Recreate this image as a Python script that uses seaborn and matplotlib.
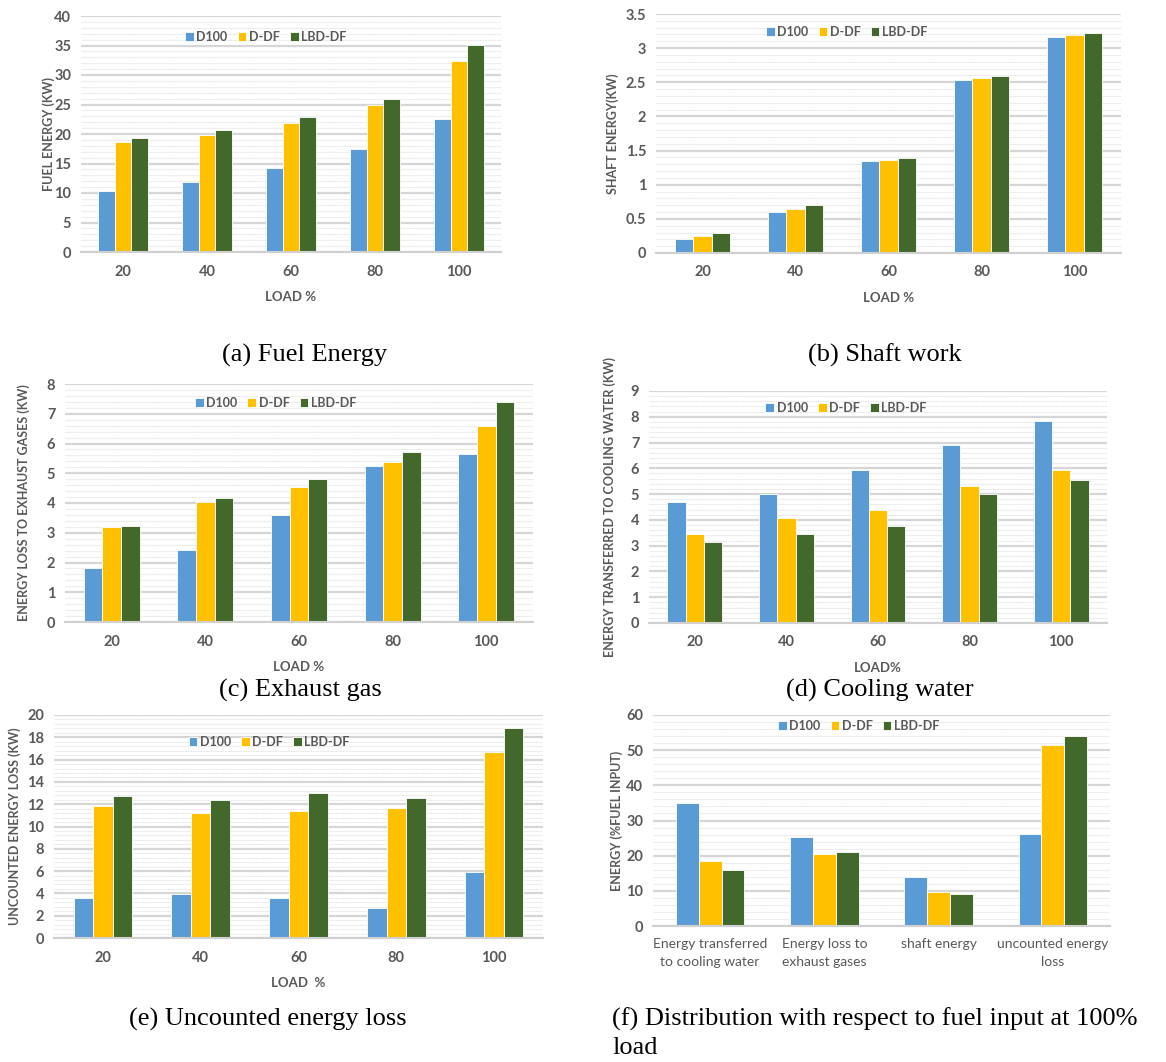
import numpy as np
import pandas as pd
import matplotlib
matplotlib.use("Agg")
import matplotlib.pyplot as plt
import seaborn as sns
from matplotlib.ticker import MultipleLocator

# series names and colours
series = ["D100", "D-DF", "LBD-DF"]
colors = ["#5B9BD5", "#FFC000", "#43682B"]
loads = ["20", "40", "60", "80", "100"]

# (a) fuel energy (kW)
fuel_d100 = [10.3, 11.9, 14.3, 17.4, 22.5]
fuel_ddf = [18.7, 19.9, 21.8, 24.9, 32.3]
fuel_lbd = [19.3, 20.6, 22.9, 26.0, 35.1]

# (b) shaft energy (kW)
shaft_d100 = [0.21, 0.60, 1.34, 2.54, 3.16]
shaft_ddf = [0.25, 0.65, 1.36, 2.56, 3.19]
shaft_lbd = [0.29, 0.70, 1.39, 2.59, 3.22]

# (c) exhaust gas loss (kW)
exh_d100 = [1.82, 2.42, 3.58, 5.23, 5.65]
exh_ddf = [3.20, 4.02, 4.55, 5.39, 6.59]
exh_lbd = [3.22, 4.18, 4.82, 5.70, 7.40]

# (d) cooling water (kW)
cool_d100 = [4.70, 5.01, 5.95, 6.91, 7.85]
cool_ddf = [3.44, 4.06, 4.37, 5.32, 5.95]
cool_lbd = [3.13, 3.44, 3.75, 5.01, 5.55]

# (e) uncounted energy loss (kW)
unc_d100 = [3.55, 3.97, 3.55, 2.72, 5.88]
unc_ddf = [11.8, 11.2, 11.4, 11.7, 16.7]
unc_lbd = [12.7, 12.4, 13.0, 12.6, 18.8]

# (f) distribution at 100% load (% of fuel input)
dist_cats = ["Energy transferred\nto cooling water", "Energy loss to\nexhaust gases",
             "shaft energy", "uncounted energy\nloss"]
dist_d100 = [34.9, 25.3, 13.9, 26.1]
dist_ddf = [18.4, 20.5, 9.8, 51.4]
dist_lbd = [15.9, 21.1, 9.1, 53.9]

W, H = 1166, 1062
sns.set_theme(style="white")
plt.rcParams["font.family"] = ["Lato", "DejaVu Sans"]
fig = plt.figure(figsize=(W / 100, H / 100), dpi=100)
fig.patch.set_facecolor("white")
gray = "#595959"


def long_df(cats, a, b, c):
    rows = []
    for name, vals in zip(series, [a, b, c]):
        for cat, v in zip(cats, vals):
            rows.append({"cat": cat, "series": name, "value": v})
    return pd.DataFrame(rows)


def panel(box, cats, vals, ymax, major, ylabel, xlabel, leg_xy, ylab_x):
    left, top, right, bottom = box
    ax = fig.add_axes([left / W, 1 - bottom / H, (right - left) / W, (bottom - top) / H])
    df = long_df(cats, *vals)
    sns.barplot(data=df, x="cat", y="value", hue="series", palette=colors,
                saturation=1, width=0.6, edgecolor="white", linewidth=0.6, ax=ax)
    ax.set_ylim(0, ymax)
    ax.set_xlim(-0.5, len(cats) - 0.5)
    ax.yaxis.set_major_locator(MultipleLocator(major))
    ax.yaxis.set_minor_locator(MultipleLocator(major / 5))
    ax.grid(axis="y", which="major", color="#d6d6d6", linewidth=1.6)
    ax.grid(axis="y", which="minor", color="#e6e6e6", linewidth=0.8, linestyle=(0, (1, 0.5)))
    ax.set_axisbelow(True)
    for s in ["top", "right", "left"]:
        ax.spines[s].set_visible(False)
    ax.spines["bottom"].set_color("#d0d0d0")
    ax.spines["bottom"].set_linewidth(1.5)
    ax.tick_params(axis="both", length=0, colors=gray, labelsize=10.5)
    ax.tick_params(axis="x", pad=9)
    ax.tick_params(axis="y", pad=7)
    for t in ax.get_xticklabels() + ax.get_yticklabels():
        t.set_fontweight("bold")
    ax.yaxis.set_major_formatter(matplotlib.ticker.FuncFormatter(lambda v, p: f"{v:g}"))
    ax.set_ylabel(ylabel, color=gray, fontsize=9, fontweight="bold")
    ax.yaxis.set_label_coords((ylab_x - left) / (right - left), 0.5)
    ax.set_xlabel(xlabel, color=gray, fontsize=9.5, fontweight="bold", labelpad=9)
    ax.legend(loc="center", bbox_to_anchor=leg_xy, ncol=3, frameon=False,
              handlelength=0.7, handleheight=0.7, handletextpad=0.2,
              columnspacing=0.8, labelcolor=gray, prop={"weight": "bold", "size": 9})
    return ax


panel((81, 16, 501, 252), loads, (fuel_d100, fuel_ddf, fuel_lbd), 40, 5,
      "FUEL ENERGY (KW)", "LOAD %", (0.44, 0.91), 55)
panel((656, 14, 1121, 253), loads, (shaft_d100, shaft_ddf, shaft_lbd), 3.5, 0.5,
      "SHAFT ENERGY(KW)", "LOAD %", (0.41, 0.925), 619)
panel((65, 384, 533, 622), loads, (exh_d100, exh_ddf, exh_lbd), 8, 1,
      "ENERGY LOSS TO EXHAUST GASES (KW)", "LOAD %", (0.45, 0.92), 30)
panel((649, 391, 1107, 623), loads, (cool_d100, cool_ddf, cool_lbd), 9, 1,
      "ENERGY TRANSFERRED TO COOLING WATER (KW)", "LOAD%", (0.43, 0.927), 616)
panel((54, 715, 543, 938), loads, (unc_d100, unc_ddf, unc_lbd), 20, 2,
      "UNCOUNTED ENERGY LOSS (KW)", "LOAD  %", (0.44, 0.88), 21)
axf = panel((653, 715, 1110, 926), dist_cats, (dist_d100, dist_ddf, dist_lbd), 60, 10,
            "ENERGY (%FUEL INPUT)", "", (0.45, 0.95), 623)
for t in axf.get_xticklabels():
    t.set_fontsize(10)
    t.set_fontweight("normal")
    t.set_linespacing(1.55)
axf.tick_params(axis="x", pad=9)

# captions
cap = dict(fontsize=19, family=["Liberation Serif", "DejaVu Serif"], color="black")
fig.text(305 / W, 1 - 355 / H, "(a) Fuel Energy", ha="center", va="center", **cap)
fig.text(885 / W, 1 - 355 / H, "(b) Shaft work", ha="center", va="center", **cap)
fig.text(300 / W, 1 - 690 / H, "(c) Exhaust gas", ha="center", va="center", **cap)
fig.text(880 / W, 1 - 690 / H, "(d) Cooling water", ha="center", va="center", **cap)
fig.text(268 / W, 1 - 1019 / H, "(e) Uncounted energy loss", ha="center", va="center", **cap)
fig.text(612 / W, 1 - 1019 / H, "(f) Distribution with respect to fuel input at 100%",
         ha="left", va="center", **cap)
fig.text(612 / W, 1 - 1048 / H, "load", ha="left", va="center", **cap)

fig.savefig("out.png", dpi=100, facecolor="white")
